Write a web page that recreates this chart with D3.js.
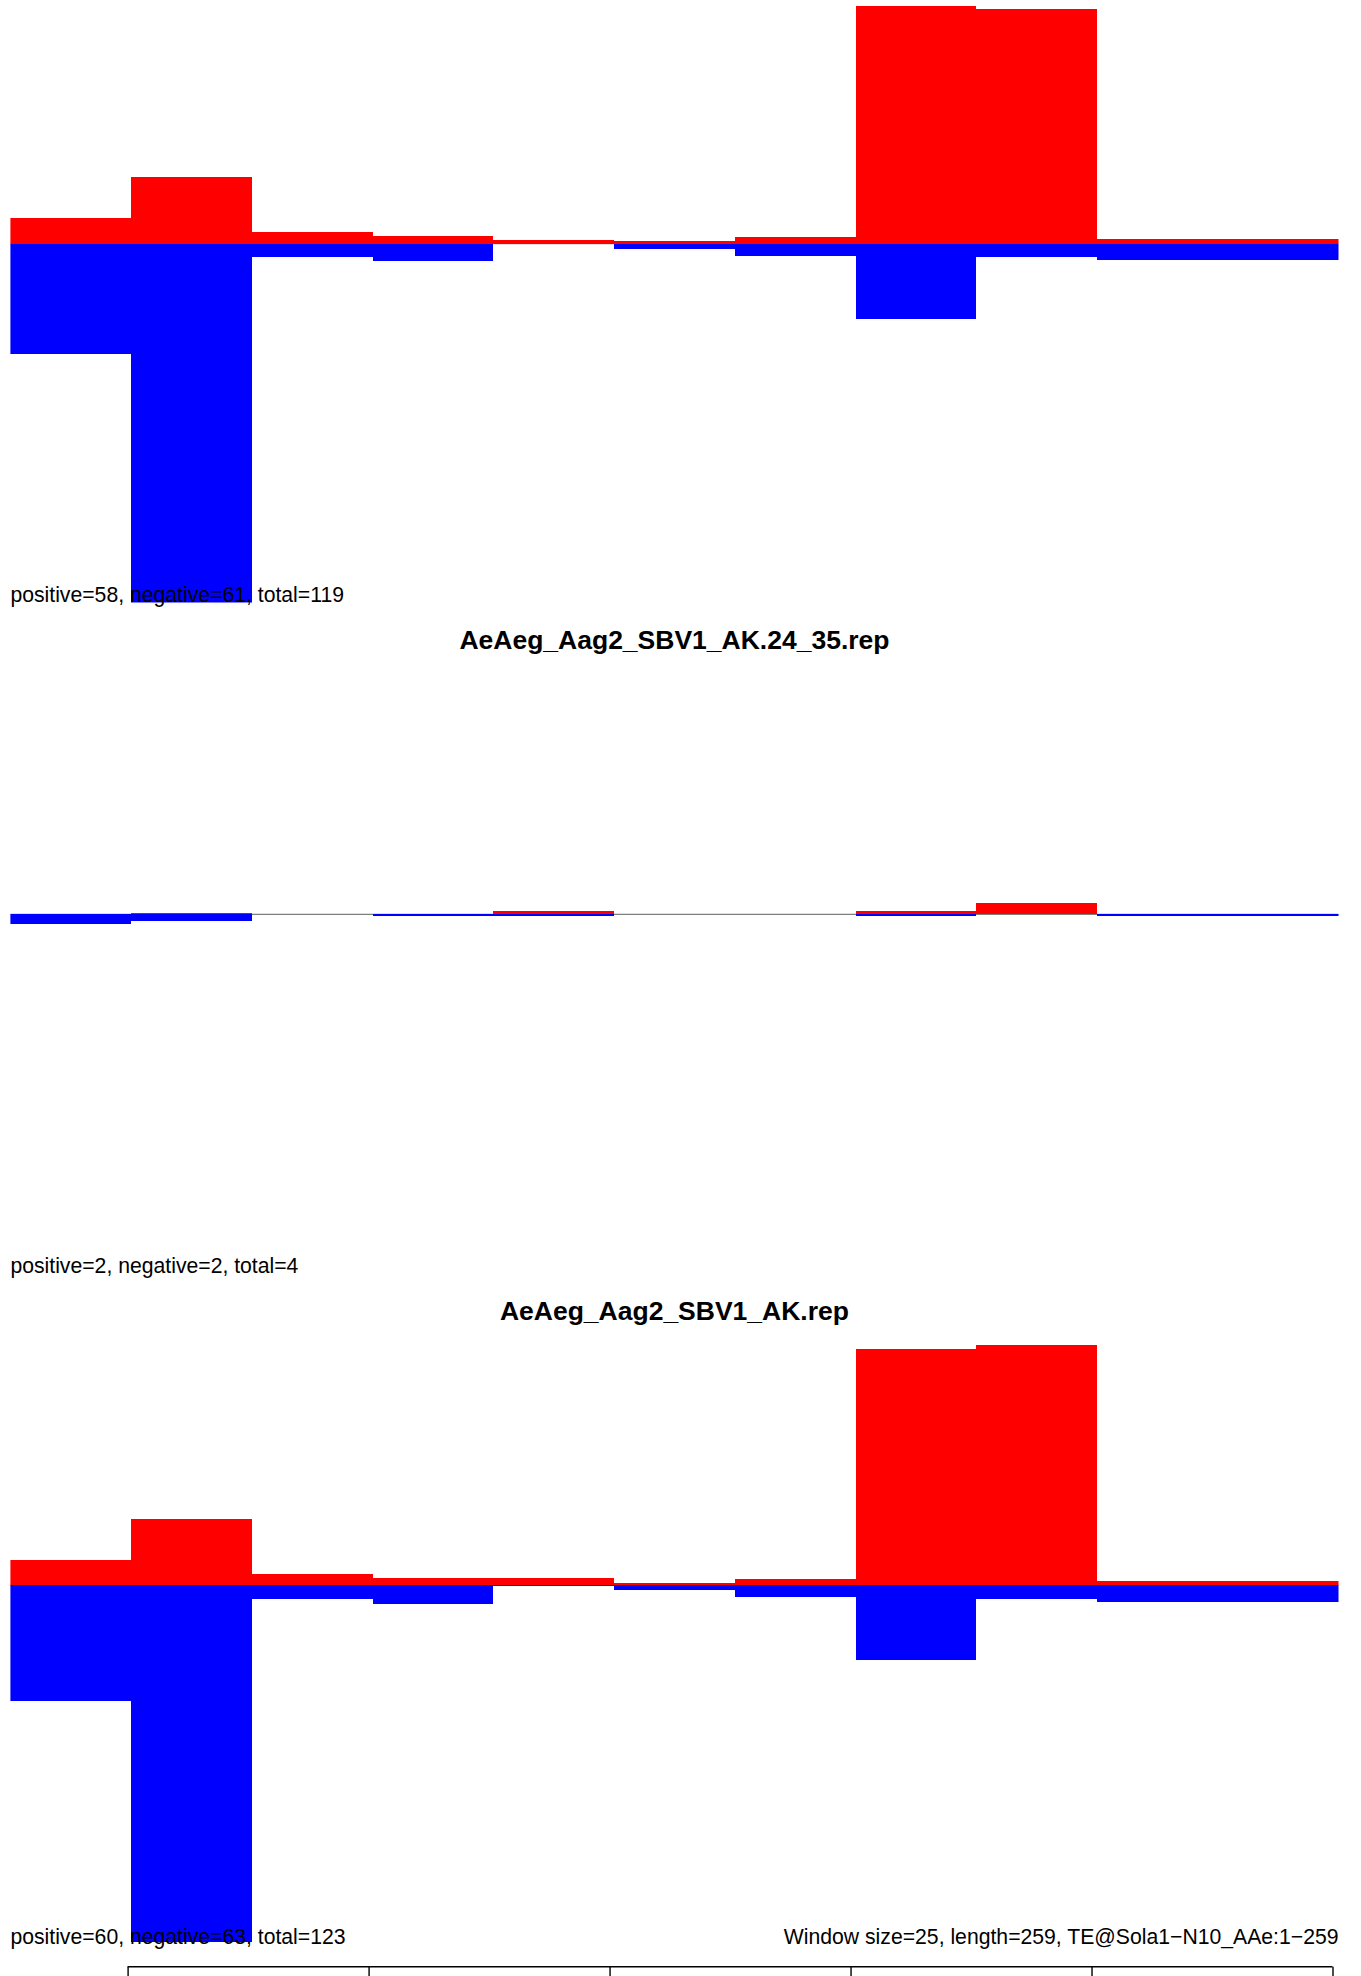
<!DOCTYPE html>
<html>
<head>
<meta charset="utf-8">
<script src="https://cdn.jsdelivr.net/npm/d3@7"></script>
<style>
  html, body { margin: 0; padding: 0; background: #ffffff; }
  svg { display: block; }
  text { font-family: "Liberation Sans", Arial, Helvetica, sans-serif; }
</style>
</head>
<body>
<div id="chart"></div>
<script>
// ---- data ----
const binStarts = [0, 25, 50, 75, 100, 125, 150, 175, 200, 225, 250];
const windowSize = 25;

const panelTitles = [null, "AeAeg_Aag2_SBV1_AK.24_35.rep", "AeAeg_Aag2_SBV1_AK.rep"];

const positive1 = [2.47, 6.41, 1.12, 0.74, 0.36, 0.26, 0.64, 22.86, 22.57, 0.45, 0.45];
const negative1 = [10.60, 34.50, 1.28, 1.66, 0.00, 0.51, 1.18, 7.24, 1.28, 1.57, 1.57];

const positive2 = [0.00, 0.10, 0.00, 0.00, 0.38, 0.00, 0.00, 0.38, 1.06, 0.00, 0.00];
const negative2 = [0.93, 0.67, 0.00, 0.19, 0.10, 0.00, 0.00, 0.19, 0.00, 0.10, 0.10];

const positive3 = [2.43, 6.41, 1.09, 0.70, 0.70, 0.22, 0.61, 22.75, 23.13, 0.41, 0.41];
const negative3 = [11.15, 34.25, 1.32, 1.80, 0.10, 0.45, 1.13, 7.15, 1.32, 1.61, 1.61];

const positiveTotals = [58, 2, 60];
const negativeTotals = [61, 2, 63];

const footerText = "Window size=25, length=259, TE@Sola1\u2212N10_AAe:1\u2212259";
const axisTicks = [0, 50, 100, 150, 200, 250];

// ---- layout ----
const W = 1361, H = 1976;
const plotLeft = 10.4, plotRight = 1338.5;
const pitch = 670.8;
const plotTop0 = -0.4, plotHeight = 603;

const svg = d3.select("#chart").append("svg")
  .attr("width", W).attr("height", H)
  .attr("viewBox", `0 0 ${W} ${H}`);
svg.append("rect").attr("width", W).attr("height", H).attr("fill", "#ffffff");

const x = d3.scaleLinear().domain([0, 275]).range([plotLeft, plotRight]);

const panels = [
  {pos: positive1, neg: negative1},
  {pos: positive2, neg: negative2},
  {pos: positive3, neg: negative3}
];

panels.forEach((p, i) => {
  const top = plotTop0 + i * pitch;
  const y = d3.scaleLinear().domain([-34.5, 23.46]).range([top + plotHeight, top]);
  const g = svg.append("g");

  const clipId = "clip" + i;
  svg.append("clipPath").attr("id", clipId).append("rect")
    .attr("x", plotLeft).attr("y", top).attr("width", plotRight - plotLeft).attr("height", plotHeight);

  const bars = g.append("g").attr("clip-path", `url(#${clipId})`);

  // zero line
  bars.append("line")
    .attr("x1", x(0)).attr("x2", x(275))
    .attr("y1", y(0)).attr("y2", y(0))
    .attr("stroke", "#7f7f7f").attr("stroke-width", 1.3);

  const rows = binStarts.map((s, k) => ({s, pos: p.pos[k], neg: p.neg[k]}));

  bars.selectAll("rect.pos").data(rows.filter(d => d.pos > 0)).enter().append("rect")
    .attr("class", "pos")
    .attr("shape-rendering", "crispEdges")
    .attr("x", d => x(d.s)).attr("width", d => x(d.s + windowSize) - x(d.s))
    .attr("y", d => y(d.pos)).attr("height", d => y(0) - y(d.pos))
    .attr("fill", "#ff0000");

  bars.selectAll("rect.neg").data(rows.filter(d => d.neg > 0)).enter().append("rect")
    .attr("class", "neg")
    .attr("shape-rendering", "crispEdges")
    .attr("x", d => x(d.s)).attr("width", d => x(d.s + windowSize) - x(d.s))
    .attr("y", y(0)).attr("height", d => Math.max(1, y(-d.neg) - y(0)))
    .attr("fill", "#0000ff");

  // title
  if (panelTitles[i]) {
    g.append("text")
      .attr("x", (plotLeft + plotRight) / 2)
      .attr("y", top - 21.6)
      .attr("text-anchor", "middle")
      .attr("font-weight", "bold")
      .attr("font-size", "26.5px")
      .attr("fill", "#000")
      .text(panelTitles[i]);
  }

  // stats text
  g.append("text")
    .attr("x", plotLeft)
    .attr("y", top + plotHeight - 0.6)
    .attr("font-size", "21.2px")
    .attr("fill", "#000")
    .text(`positive=${positiveTotals[i]}, negative=${negativeTotals[i]}, total=${positiveTotals[i] + negativeTotals[i]}`);

  if (i === panels.length - 1) {
    g.append("text")
      .attr("x", plotRight)
      .attr("y", top + plotHeight - 0.6)
      .attr("text-anchor", "end")
      .attr("font-size", "21.2px")
      .attr("fill", "#000")
      .text(footerText);
  }
});

// bottom axis (top of the next panel, labels off canvas)
const xa = d3.scaleLinear().domain([0, 250]).range([127.6, 1332.5]);
const axis = d3.axisBottom(xa).tickValues(axisTicks).tickSize(14).tickFormat("");
const ag = svg.append("g").attr("transform", "translate(0,1966.7)").call(axis);
ag.select(".domain").attr("stroke", "#000").attr("stroke-width", 1.6).attr("d", `M${xa(0)},0H${xa(250)}`);
ag.selectAll(".tick line").attr("stroke", "#000").attr("stroke-width", 1.4);
</script>
</body>
</html>
